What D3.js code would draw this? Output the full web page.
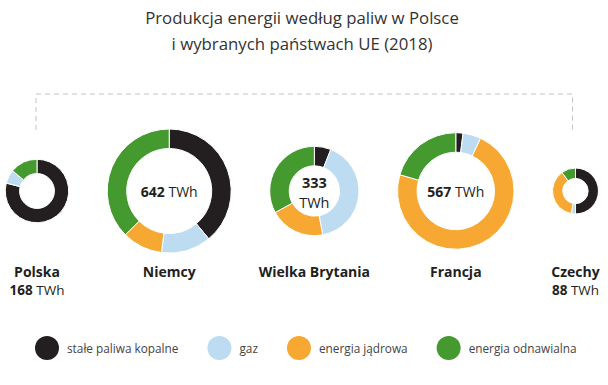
<!DOCTYPE html>
<html>
<head>
<meta charset="utf-8">
<script src="https://cdn.jsdelivr.net/npm/d3@7"></script>
<style>
  body { margin: 0; background: #fff; }
  text { font-family: "Open Sans", sans-serif; fill: #231f20; }
</style>
</head>
<body>
<script>
// Data (share of production, %)
var countries = ["Polska", "Niemcy", "Wielka Brytania", "Francja", "Czechy"];
var totals    = [168, 642, 333, 567, 88];          // TWh
var fuels     = ["stałe paliwa kopalne", "gaz", "energia jądrowa", "energia odnawialna"];
var solid     = [79, 39, 6, 2, 50];
var gas       = [7, 13, 41, 5, 3];
var nuclear   = [0, 10.5, 20, 72.5, 37];
var renewable = [14, 37.5, 33, 20.5, 10];
var fuelColors = ["#231f20", "#bddcf1", "#f6a833", "#459a2f"];

var w = 608, h = 385;
var cy = 191;

var svg = d3.select("body").append("svg")
    .attr("width", w)
    .attr("height", h);

// title
var title = svg.append("text")
    .attr("text-anchor", "middle")
    .attr("font-size", 16.8)
    .style("fill", "#333");
title.append("tspan").attr("x", 302).attr("y", 24).text("Produkcja energii według paliw w Polsce");
title.append("tspan").attr("x", 302).attr("y", 50).text("i wybranych państwach UE (2018)");

// radius ~ sqrt of total production
var r = d3.scaleSqrt()
    .domain([0, d3.max(totals)])
    .range([0, 62]);

var color = d3.scaleOrdinal()
    .domain(fuels)
    .range(fuelColors);

// pack the donuts left to right with an even gap
var gap = 38.5;
var cx = [];
totals.forEach(function(t, i) {
    if (i == 0) cx.push(37);
    else cx.push(cx[i - 1] + r(totals[i - 1]) + gap + r(t));
});

// dashed bracket above the row
var first = cx[0] - 1, last = cx[cx.length - 1] - 3;
svg.append("path")
    .attr("d", "M" + first + ",130V94H" + last + "V130")
    .attr("fill", "none")
    .attr("stroke", "#c4c4c4")
    .attr("stroke-width", 1)
    .attr("stroke-dasharray", "5,4");

var pie = d3.pie().sort(null).value(function(d) { return d; });

var data = countries.map(function(c, i) {
    return { name: c, total: totals[i], values: [solid[i], gas[i], nuclear[i], renewable[i]], x: cx[i] };
});

var g = svg.selectAll("g.donut")
    .data(data)
    .enter().append("g")
    .attr("class", "donut")
    .attr("transform", function(d) { return "translate(" + d.x + "," + cy + ")"; });

g.each(function(d) {
    var outer = r(d.total);
    var thick = Math.min(19.5, outer * 0.45);
    var arc = d3.arc().outerRadius(outer).innerRadius(outer - thick);
    var sel = d3.select(this);

    sel.selectAll("path")
        .data(pie(d.values))
        .enter().append("path")
        .attr("d", arc)
        .attr("fill", function(p, j) { return fuelColors[j]; })
        .attr("stroke", "#fff")
        .attr("stroke-width", 1);

    // country name under the donut
    sel.append("text")
        .attr("text-anchor", "middle")
        .attr("y", 277 - cy)
        .attr("font-size", 14)
        .attr("font-weight", "bold")
        .text(d.name);

    if (outer > 40) {
        var inner = outer - thick;
        if (inner < 35) {
            // small hole: number and unit on two lines
            sel.append("text").attr("text-anchor", "middle").attr("font-size", 14.5)
                .attr("y", -3).attr("font-weight", "bold").text(d.total);
            sel.append("text").attr("text-anchor", "middle").attr("font-size", 14.5)
                .attr("y", 17).text("TWh");
        } else {
            var t = sel.append("text").attr("text-anchor", "middle").attr("font-size", 14).attr("y", 6);
            t.append("tspan").attr("font-weight", "bold").text(d.total + " ");
            t.append("tspan").text("TWh");
        }
    } else {
        var t2 = sel.append("text").attr("text-anchor", "middle")
            .attr("y", 295 - cy).attr("font-size", 13.5);
        t2.append("tspan").attr("font-weight", "bold").text(d.total + " ");
        t2.append("tspan").text("TWh");
    }
});

// legend, laid out as a flowing row
var legend = svg.append("g").attr("transform", "translate(0,348)");
var lx = 35;
fuels.forEach(function(f, i) {
    var item = legend.append("g").attr("transform", "translate(" + lx + ",0)");
    item.append("circle")
        .attr("cx", 12)
        .attr("r", 12)
        .attr("fill", color(f));
    var txt = item.append("text")
        .attr("x", 32)
        .attr("y", 4.5)
        .attr("font-size", 11.8)
        .style("fill", "#444")
        .text(f);
    lx += 32 + txt.node().getComputedTextLength() + 29;
});
</script>
</body>
</html>
